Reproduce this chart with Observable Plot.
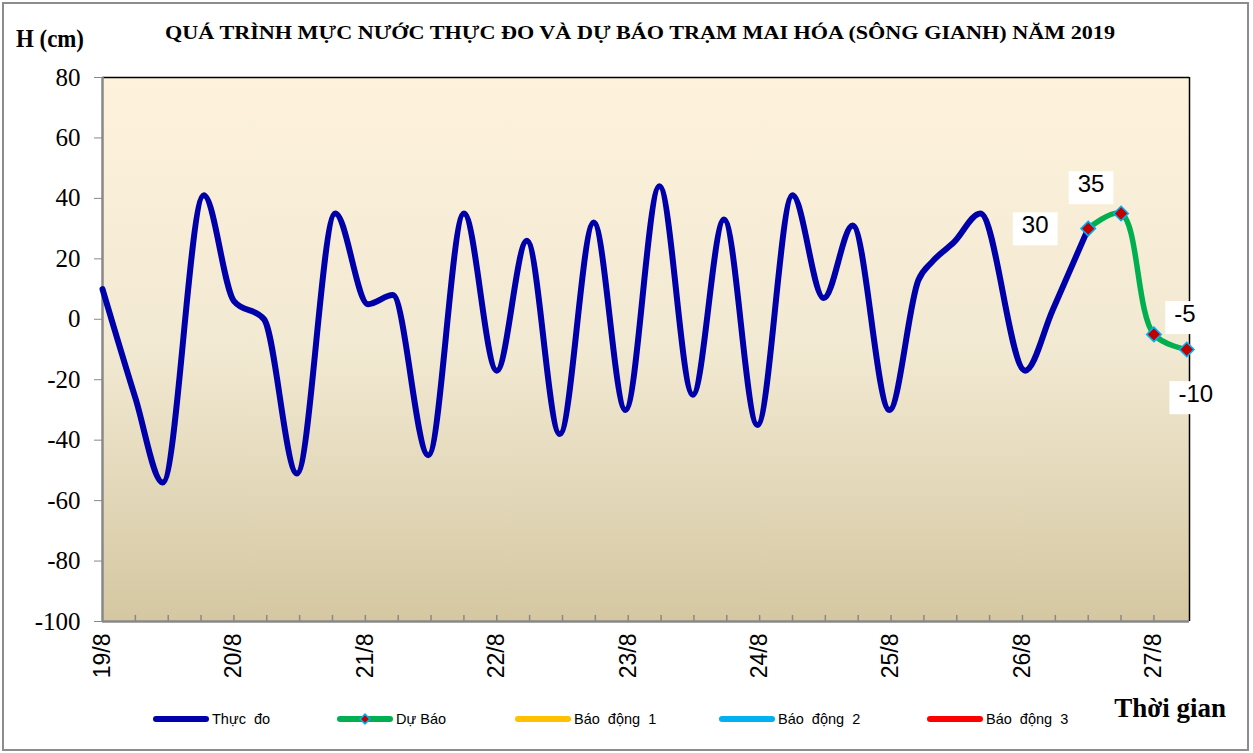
<!DOCTYPE html>
<html>
<head>
<meta charset="utf-8">
<script src="https://cdn.jsdelivr.net/npm/d3@7"></script>
<script src="https://cdn.jsdelivr.net/npm/@observablehq/plot@0.6"></script>
<style>
  html, body { margin: 0; padding: 0; background: #ffffff; }
  #chart svg { display: block; }
</style>
</head>
<body>
<div id="chart"></div>
<script>
// ---- Data (hours counted from 19/8 00h) ----
const obsHour  = [0, 6, 11, 18.5, 24, 29.5, 35.5, 42.5, 48.5, 53, 59.5, 66, 72, 77.5, 83.5, 89.7, 95.5, 101.7, 107.8, 113.5, 119.6, 126, 131.7, 137, 143.7, 149, 151.5, 155.5, 160.3, 168.5, 173.5, 180];
const obsLevel = [10, -26, -54, 41, 6, 0, -51, 35, 5, 8, -45, 35, -17, 26, -38, 32, -30, 44, -25, 33, -35, 41, 7, 31, -30, 13, 19, 25.5, 35, -17, 3, 30];
const fcHour   = [180, 186, 192, 198];
const fcLevel  = [30, 35, -5, -10];
const dayHours  = [0, 24, 48, 72, 96, 120, 144, 168, 192];
const dayLabels = ["19/8", "20/8", "21/8", "22/8", "23/8", "24/8", "25/8", "26/8", "27/8"];
const minorHours = d3.range(6, 198, 6);
const yTicks = [-100, -80, -60, -40, -20, 0, 20, 40, 60, 80];
const legendNames  = ["Thực  đo", "Dự Báo", "Báo  động  1", "Báo  động  2", "Báo  động  3"];
const legendColors = ["#0000aa", "#00b050", "#ffc000", "#00b0f0", "#ff0000"];
const titleText = "QUÁ TRÌNH MỰC NƯỚC THỰC ĐO VÀ DỰ BÁO TRẠM MAI HÓA (SÔNG GIANH) NĂM 2019";

const observed = obsHour.map((h, i) => ({h, v: obsLevel[i]}));
const forecast = fcHour.map((h, i) => ({h, v: fcLevel[i]}));
const labelOffsets = [[-53, -3], [-30, -29], [31, -20], [9, 45]];

const serif = "'Liberation Serif', 'Times New Roman', serif";
const sans = "'Liberation Sans', Arial, sans-serif";

const plot = Plot.plot({
  width: 1253,
  height: 753,
  marginLeft: 102,
  marginRight: 64,
  marginTop: 77,
  marginBottom: 132,
  style: {background: "transparent", overflow: "visible"},
  x: {domain: [0, 198.5]},
  y: {domain: [-100, 80]},
  marks: [
    Plot.frame({fill: "url(#bgGrad)", stroke: "none"}),
    Plot.ruleX(minorHours, {y1: -100, y2: -98, stroke: "#888", strokeWidth: 1.5}),
    Plot.ruleY([80], {stroke: "#000", strokeWidth: 1.5}),
    Plot.ruleX([198.5], {stroke: "#000", strokeWidth: 1.5}),
    Plot.ruleX([0], {stroke: "#888", strokeWidth: 2.5}),
    Plot.ruleY([-100], {stroke: "#888", strokeWidth: 2.5}),
    Plot.axisY({ticks: yTicks, tickFormat: d => String(d), tickSize: 8, tickPadding: 14, stroke: "#888", fill: "#000",
      fontSize: 25, fontFamily: serif, label: null}),
    Plot.axisX({ticks: dayHours, tickFormat: d => dayLabels[Math.round(d / 24)], tickRotate: -90,
      tickSize: 0, tickPadding: 12, fill: "#000", fontSize: 23, fontFamily: sans, label: null}),
    Plot.line(observed, {x: "h", y: "v", stroke: legendColors[0], strokeWidth: 6, curve: "monotone-x"}),
    Plot.line(forecast, {x: "h", y: "v", stroke: legendColors[1], strokeWidth: 5.5, curve: "catmull-rom"}),
    Plot.dot(forecast, {x: "h", y: "v", symbol: "diamond2", r: 6.5, fill: "#c00000", stroke: "#00b0f0", strokeWidth: 1.6}),
    ...forecast.map((d, i) => Plot.text([d], {x: "h", y: "v", text: d => String(d.v),
      dx: labelOffsets[i][0], dy: labelOffsets[i][1], fontSize: 24, fontFamily: sans, fill: "#000"}))
  ]
});

document.getElementById("chart").appendChild(plot);
const svg = d3.select(plot);

// gradient background
const defs = svg.insert("defs", ":first-child");
const grad = defs.append("linearGradient").attr("id", "bgGrad")
  .attr("x1", 0).attr("y1", 0).attr("x2", 0).attr("y2", 1);
grad.append("stop").attr("offset", "0%").attr("stop-color", "rgb(254,242,220)");
grad.append("stop").attr("offset", "50%").attr("stop-color", "rgb(242,233,210)");
grad.append("stop").attr("offset", "100%").attr("stop-color", "rgb(212,199,161)");

// white boxes behind value labels
svg.selectAll('g[aria-label="text"] text').each(function() {
  const b = this.getBBox();
  const t = this.getAttribute("transform");
  const r = d3.select(this.parentNode).insert("rect", () => this)
    .attr("x", b.x - 9).attr("y", b.y + 1).attr("width", b.width + 18).attr("height", b.height + 6)
    .attr("fill", "#fff");
  if (t) r.attr("transform", t);
});

// outer border
svg.append("rect").attr("x", 3).attr("y", 3).attr("width", 1245).attr("height", 747)
  .attr("fill", "none").attr("stroke", "#8c8c8c").attr("stroke-width", 2);

// title
svg.append("text").attr("x", 640).attr("y", 39).attr("text-anchor", "middle")
  .attr("font-family", serif).attr("font-weight", "bold").attr("font-size", 18)
  .attr("textLength", 950).attr("lengthAdjust", "spacingAndGlyphs")
  .text(titleText);

// y unit label
svg.append("text").attr("x", 16).attr("y", 47).attr("text-anchor", "start")
  .attr("font-family", serif).attr("font-weight", "bold").attr("font-size", 25)
  .attr("textLength", 68).attr("lengthAdjust", "spacingAndGlyphs")
  .text("H (cm)");

// x label
svg.append("text").attr("x", 1226).attr("y", 717).attr("text-anchor", "end")
  .attr("font-family", serif).attr("font-weight", "bold").attr("font-size", 27)
  .text("Thời gian");

// legend
const legX = [153, 337, 515, 719, 927];
const leg = svg.append("g");
legendNames.forEach((name, i) => {
  const x0 = legX[i];
  leg.append("line").attr("x1", x0 + 3).attr("x2", x0 + 53).attr("y1", 719).attr("y2", 719)
    .attr("stroke", legendColors[i]).attr("stroke-width", 6).attr("stroke-linecap", "round");
  if (i === 1) {
    leg.append("path").attr("d", d3.symbol(d3.symbolDiamond2, 60)())
      .attr("transform", `translate(${x0 + 28},719)`)
      .attr("fill", "#c00000").attr("stroke", "#00b0f0").attr("stroke-width", 1.5);
  }
  leg.append("text").attr("x", x0 + 59).attr("y", 724).attr("text-anchor", "start")
    .attr("font-family", sans).attr("font-size", 14.5)
    .style("white-space", "pre")
    .text(name);
});
</script>
</body>
</html>
